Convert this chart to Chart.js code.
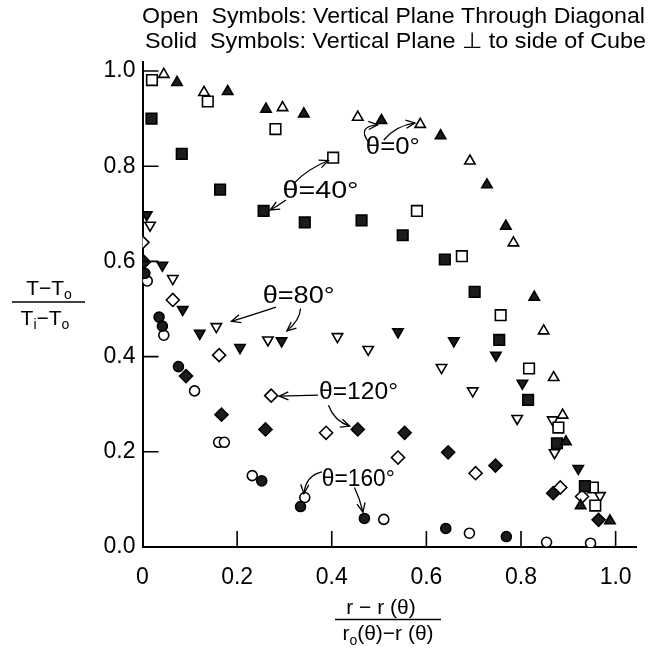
<!DOCTYPE html>
<html>
<head>
<meta charset="utf-8">
<script src="https://cdn.jsdelivr.net/npm/chart.js@4.4.1/dist/chart.umd.min.js"></script>
<style>
  html, body { margin: 0; padding: 0; background: #fff; }
  #wrap { width: 649px; height: 648px; }
</style>
</head>
<body>
<div id="wrap"><canvas id="fig" width="649" height="648"></canvas></div>
<script>
// x = (r - r(θ)) / (ro(θ) - r(θ)),  y = (T - To) / (Ti - To)
// open symbols: vertical plane through the diagonal, solid: plane ⊥ to the cube side
var open0 = [[0.045, 0.993], [0.130, 0.955], [0.296, 0.923], [0.455, 0.903], [0.587, 0.888],
  [0.692, 0.811], [0.784, 0.639], [0.848, 0.454], [0.869, 0.356], [0.888, 0.277]];
var solid0 = [[0.073, 0.976], [0.180, 0.957], [0.261, 0.920], [0.341, 0.910], [0.505, 0.896],
  [0.630, 0.864], [0.728, 0.761], [0.768, 0.674], [0.828, 0.525], [0.895, 0.221],
  [0.926, 0.087], [0.988, 0.055]];
var open40 = [[0.020, 0.981], [0.138, 0.936], [0.281, 0.878], [0.403, 0.818], [0.580, 0.706],
  [0.675, 0.611], [0.757, 0.487], [0.817, 0.375], [0.879, 0.251], [0.952, 0.125], [0.957, 0.087]];
var solid40 = [[0.019, 0.900], [0.083, 0.826], [0.164, 0.751], [0.256, 0.706], [0.343, 0.682],
  [0.463, 0.686], [0.550, 0.655], [0.639, 0.604], [0.702, 0.536], [0.754, 0.435],
  [0.815, 0.309], [0.876, 0.218], [0.935, 0.128]];
var open80 = [[0.016, 0.676], [0.064, 0.564], [0.156, 0.463], [0.265, 0.435], [0.412, 0.442],
  [0.477, 0.415], [0.632, 0.377], [0.698, 0.328], [0.792, 0.270], [0.867, 0.267],
  [0.871, 0.198], [0.967, 0.108]];
var solid80 = [[0.009, 0.698], [0.042, 0.592], [0.085, 0.499], [0.121, 0.449], [0.206, 0.419],
  [0.294, 0.433], [0.540, 0.452], [0.658, 0.433], [0.747, 0.403], [0.803, 0.344], [0.921, 0.165]];
var open120 = [[0.000, 0.640], [0.064, 0.519], [0.162, 0.403], [0.272, 0.318], [0.388, 0.240],
  [0.540, 0.188], [0.704, 0.155], [0.883, 0.125], [0.929, 0.106]];
var solid120 = [[0.003, 0.599], [0.092, 0.359], [0.167, 0.278], [0.260, 0.247], [0.455, 0.247],
  [0.554, 0.240], [0.646, 0.199], [0.746, 0.171], [0.868, 0.113], [0.964, 0.057]];
var open160 = [[0.010, 0.559], [0.045, 0.445], [0.110, 0.328], [0.161, 0.220], [0.173, 0.220],
  [0.232, 0.150], [0.343, 0.104], [0.510, 0.058], [0.691, 0.029], [0.854, 0.010], [0.947, 0.008]];
var solid160 = [[0.005, 0.575], [0.035, 0.483], [0.042, 0.464], [0.076, 0.379], [0.252, 0.139],
  [0.334, 0.085], [0.469, 0.060], [0.641, 0.039], [0.769, 0.022]];

var xTicks = [0, 0.2, 0.4, 0.6, 0.8, 1.0];
var xTickLabels = ["0", "0.2", "0.4", "0.6", "0.8", "1.0"];
var yTicks = [0, 0.2, 0.4, 0.6, 0.8, 1.0];
var yTickLabels = ["0.0", "0.2", "0.4", "0.6", "0.8", "1.0"];

var headerLines = [
  "Open  Symbols: Vertical Plane Through Diagonal",
  "Solid  Symbols: Vertical Plane \u22A5 to side of Cube"
];

// angle labels (left edge, middle) and their arrows [start, control, end] in data units
var notes = [
  { text: "\u03B8=0\u00B0", x: 0.472, y: 0.840, w: 54 },
  { text: "\u03B8=40\u00B0", x: 0.296, y: 0.746, w: 76 },
  { text: "\u03B8=80\u00B0", x: 0.254, y: 0.525, w: 72 },
  { text: "\u03B8=120\u00B0", x: 0.373, y: 0.324, w: 79 },
  { text: "\u03B8=160\u00B0", x: 0.379, y: 0.141, w: 73 }
];
var arrows = [
  [0.479, 0.849, 0.452, 0.884, 0.497, 0.887],
  [0.510, 0.855, 0.535, 0.885, 0.576, 0.891],
  [0.321, 0.765, 0.350, 0.795, 0.393, 0.812],
  [0.303, 0.729, 0.288, 0.718, 0.270, 0.708],
  [0.282, 0.504, 0.240, 0.490, 0.188, 0.474],
  [0.334, 0.501, 0.333, 0.477, 0.305, 0.454],
  [0.371, 0.319, 0.330, 0.318, 0.289, 0.317],
  [0.393, 0.298, 0.405, 0.265, 0.438, 0.254],
  [0.379, 0.158, 0.345, 0.150, 0.341, 0.112],
  [0.448, 0.125, 0.460, 0.100, 0.466, 0.073]
];

var FONT = '"Liberation Sans", "DejaVu Sans", sans-serif';

function pts(arr) {
  return arr.map(function (p) { return { x: p[0], y: p[1] }; });
}

function series(label, arr, style, solid, rot, r) {
  return {
    label: label,
    data: pts(arr),
    showLine: false,
    pointStyle: style,
    rotation: rot,
    pointRadius: r,
    pointHoverRadius: r,
    pointBackgroundColor: solid ? "#1c1c1c" : "#ffffff",
    pointBorderColor: "#000000",
    pointBorderWidth: 1.6
  };
}

// text squeezed or stretched to a given width
function fitText(ctx, t, x, y, size, w) {
  ctx.font = size + "px " + FONT;
  var m = ctx.measureText(t).width;
  ctx.save();
  ctx.translate(x, y);
  ctx.scale(w / m, 1);
  ctx.fillText(t, 0, 0);
  ctx.restore();
}

// runs of text with subscripts, centred on cx
function drawRuns(ctx, runs, cx, base) {
  var total = 0;
  runs.forEach(function (r) {
    ctx.font = r.s + "px " + FONT;
    r.w = ctx.measureText(r.t).width;
    total += r.w;
  });
  var x = cx - total / 2;
  runs.forEach(function (r) {
    ctx.font = r.s + "px " + FONT;
    ctx.fillText(r.t, x, base + (r.dy || 0));
    x += r.w;
  });
}

function arrowHead(ctx, x, y, ang) {
  var len = 10, spread = 0.42;
  ctx.beginPath();
  ctx.moveTo(x - len * Math.cos(ang - spread), y - len * Math.sin(ang - spread));
  ctx.lineTo(x, y);
  ctx.lineTo(x - len * Math.cos(ang + spread), y - len * Math.sin(ang + spread));
  ctx.stroke();
}

var figureExtras = {
  id: "figureExtras",
  afterDraw: function (chart) {
    var ctx = chart.ctx;
    var xs = chart.scales.x, ys = chart.scales.y;
    var x0 = xs.getPixelForValue(0), y0 = ys.getPixelForValue(0);
    ctx.save();
    ctx.strokeStyle = "#000";
    ctx.fillStyle = "#000";

    // tick marks point into the plot
    ctx.lineWidth = 1.6;
    ctx.beginPath();
    xTicks.forEach(function (v) {
      if (v === 0) return;
      var px = xs.getPixelForValue(v);
      ctx.moveTo(px, y0);
      ctx.lineTo(px, y0 - 16);
    });
    yTicks.forEach(function (v) {
      if (v === 0) return;
      var py = ys.getPixelForValue(v);
      ctx.moveTo(x0, py);
      ctx.lineTo(x0 + 16, py);
    });
    ctx.stroke();

    // symbol key above the plot
    ctx.textBaseline = "alphabetic";
    ctx.textAlign = "left";
    fitText(ctx, headerLines[0], 142, 23, 22, 503);
    fitText(ctx, headerLines[1], 145, 48, 22, 501);

    // y title as a fraction
    drawRuns(ctx, [{ t: "T\u2212T", s: 21 }, { t: "o", s: 14, dy: 4 }], 49, 295);
    drawRuns(ctx, [{ t: "T", s: 21 }, { t: "i", s: 14, dy: 4 }, { t: "\u2212T", s: 21 }, { t: "o", s: 14, dy: 4 }], 45, 325);
    ctx.lineWidth = 1.5;
    ctx.beginPath();
    ctx.moveTo(12, 302);
    ctx.lineTo(85, 302);
    ctx.stroke();

    // x title as a fraction
    drawRuns(ctx, [{ t: "r \u2212 r (\u03B8)", s: 21 }], 381, 614);
    drawRuns(ctx, [{ t: "r", s: 21 }, { t: "o", s: 14, dy: 5 }, { t: "(\u03B8)\u2212r (\u03B8)", s: 21 }], 388, 640);
    ctx.beginPath();
    ctx.moveTo(335, 619.5);
    ctx.lineTo(441, 619.5);
    ctx.stroke();

    // angle labels
    ctx.textBaseline = "middle";
    notes.forEach(function (n) {
      fitText(ctx, n.text, xs.getPixelForValue(n.x), ys.getPixelForValue(n.y), 23, n.w);
    });

    ctx.lineWidth = 1.3;
    arrows.forEach(function (a) {
      var sx = xs.getPixelForValue(a[0]), sy = ys.getPixelForValue(a[1]);
      var cx = xs.getPixelForValue(a[2]), cy = ys.getPixelForValue(a[3]);
      var ex = xs.getPixelForValue(a[4]), ey = ys.getPixelForValue(a[5]);
      ctx.beginPath();
      ctx.moveTo(sx, sy);
      ctx.quadraticCurveTo(cx, cy, ex, ey);
      ctx.stroke();
      arrowHead(ctx, ex, ey, Math.atan2(ey - cy, ex - cx));
    });
    ctx.restore();
  }
};

var tickFont = { family: FONT, size: 23 };

new Chart(document.getElementById("fig"), {
  type: "scatter",
  data: {
    datasets: [
      series("\u03B8=0\u00B0 solid", solid0, "triangle", true, 0, 6),
      series("\u03B8=0\u00B0 open", open0, "triangle", false, 0, 6),
      series("\u03B8=40\u00B0 solid", solid40, "rect", true, 0, 7.5),
      series("\u03B8=40\u00B0 open", open40, "rect", false, 0, 7.5),
      series("\u03B8=80\u00B0 solid", solid80, "triangle", true, 180, 6),
      series("\u03B8=80\u00B0 open", open80, "triangle", false, 180, 6),
      series("\u03B8=120\u00B0 solid", solid120, "rectRot", true, 0, 6.5),
      series("\u03B8=120\u00B0 open", open120, "rectRot", false, 0, 6.5),
      series("\u03B8=160\u00B0 solid", solid160, "circle", true, 0, 5),
      series("\u03B8=160\u00B0 open", open160, "circle", false, 0, 5)
    ]
  },
  options: {
    responsive: false,
    animation: false,
    events: [],
    layout: { padding: { top: 61.5, right: 3.3, left: 0, bottom: 0 } },
    plugins: {
      legend: { display: false },
      tooltip: { enabled: false }
    },
    scales: {
      x: {
        type: "linear",
        min: 0,
        max: 1.045,
        afterBuildTicks: function (s) {
          s.ticks = xTicks.map(function (v) { return { value: v }; });
        },
        afterFit: function (s) { s.height = 101; },
        grid: { display: false, drawTicks: false },
        border: { display: true, width: 2, color: "#000" },
        ticks: {
          padding: 17,
          color: "#000",
          font: tickFont,
          maxRotation: 0,
          autoSkip: false,
          callback: function (v, i) { return xTickLabels[i]; }
        }
      },
      y: {
        type: "linear",
        min: 0,
        max: 1.02,
        afterBuildTicks: function (s) {
          s.ticks = yTicks.map(function (v) { return { value: v }; });
        },
        afterFit: function (s) { s.width = 142.5; },
        grid: { display: false, drawTicks: false },
        border: { display: true, width: 2, color: "#000" },
        ticks: {
          padding: 7,
          color: "#000",
          font: tickFont,
          autoSkip: false,
          callback: function (v, i) { return yTickLabels[i]; }
        }
      }
    }
  },
  plugins: [figureExtras]
});
</script>
</body>
</html>
